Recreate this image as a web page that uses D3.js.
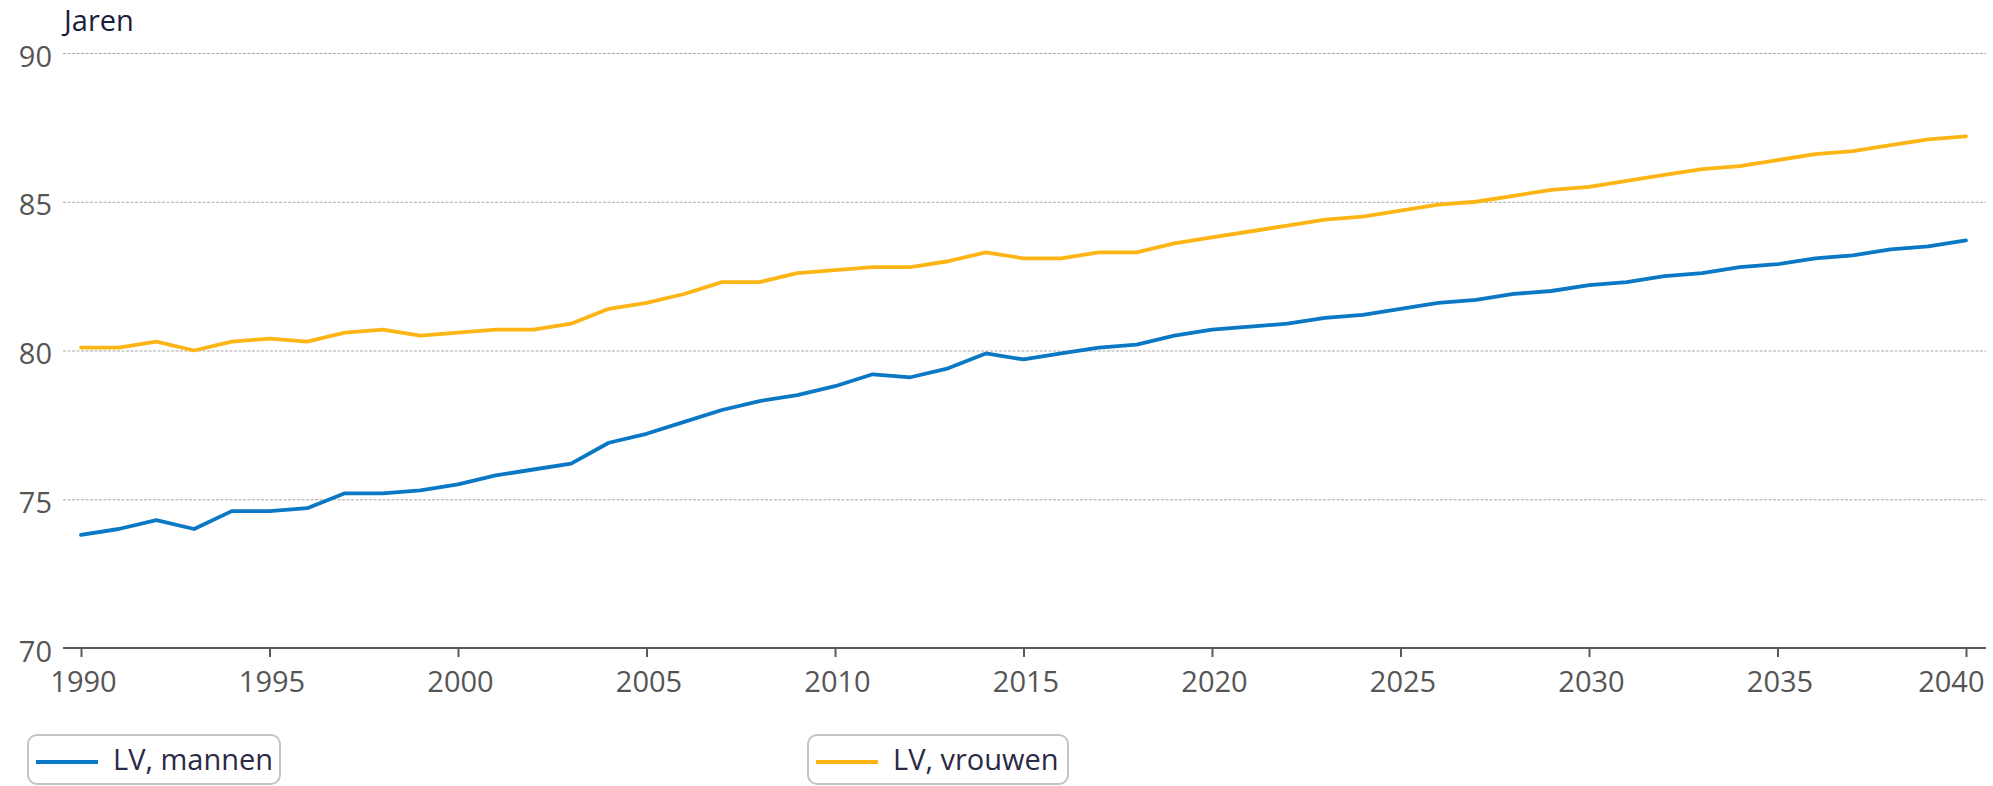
<!DOCTYPE html>
<html>
<head>
<meta charset="utf-8">
<script src="https://cdn.jsdelivr.net/npm/d3@7"></script>
<style>
  html, body { margin: 0; padding: 0; background: #fff; }
  svg { display: block; }
</style>
</head>
<body>
<svg id="chart" width="1993" height="786"></svg>
<script>
const years = d3.range(1990, 2041);
const mannen = [73.8, 74.0, 74.3, 74.0, 74.6, 74.6, 74.7, 75.2, 75.2, 75.3,
  75.5, 75.8, 76.0, 76.2, 76.9, 77.2, 77.6, 78.0, 78.3, 78.5,
  78.8, 79.2, 79.1, 79.4, 79.9, 79.7, 79.9, 80.1, 80.2, 80.5,
  80.7, 80.8, 80.9, 81.1, 81.2, 81.4, 81.6, 81.7, 81.9, 82.0,
  82.2, 82.3, 82.5, 82.6, 82.8, 82.9, 83.1, 83.2, 83.4, 83.5, 83.7];
const vrouwen = [80.1, 80.1, 80.3, 80.0, 80.3, 80.4, 80.3, 80.6, 80.7, 80.5,
  80.6, 80.7, 80.7, 80.9, 81.4, 81.6, 81.9, 82.3, 82.3, 82.6,
  82.7, 82.8, 82.8, 83.0, 83.3, 83.1, 83.1, 83.3, 83.3, 83.6,
  83.8, 84.0, 84.2, 84.4, 84.5, 84.7, 84.9, 85.0, 85.2, 85.4,
  85.5, 85.7, 85.9, 86.1, 86.2, 86.4, 86.6, 86.7, 86.9, 87.1, 87.2];
const xTicks = [1990, 1995, 2000, 2005, 2010, 2015, 2020, 2025, 2030, 2035, 2040];
const yTicks = [70, 75, 80, 85, 90];
const seriesNames = ["LV, mannen", "LV, vrouwen"];
const seriesColors = ["#0a78c4", "#fdb515"];
const yTitle = "Jaren";

const svg = d3.select("#chart");
const font = "'Open Sans', sans-serif";
const x = d3.scaleLinear().domain([1990, 2040]).range([81, 1966]);
const y = d3.scaleLinear().domain([70, 90]).range([648, 53]);
const gridLeft = 63, gridRight = 1986;

// Y axis with gridlines
const yAxis = svg.append("g")
  .attr("transform", `translate(${gridLeft},0)`)
  .call(d3.axisLeft(y).tickValues(yTicks).tickSize(-(gridRight - gridLeft)).tickPadding(11));
yAxis.select(".domain").remove();
yAxis.selectAll(".tick line")
  .attr("stroke", "#a8a8a8")
  .attr("stroke-width", 1)
  .attr("stroke-dasharray", "3,1.5")
  .attr("opacity", d => d === 70 ? 0 : 1);
yAxis.selectAll(".tick text")
  .attr("dy", null)
  .attr("y", 13)
  .attr("fill", "#555")
  .style("font-family", font)
  .style("font-size", "29px");

// X axis
const xAxis = svg.append("g")
  .attr("transform", `translate(0,${y(70)})`)
  .call(d3.axisBottom(x).tickValues(xTicks).tickFormat(d3.format("d")).tickSize(9).tickSizeOuter(0).tickPadding(12));
xAxis.select(".domain")
  .attr("d", `M${gridLeft},0H${gridRight}`)
  .attr("stroke", "#5a5a5a")
  .attr("stroke-width", 2);
xAxis.selectAll(".tick line").attr("stroke", "#5a5a5a").attr("stroke-width", 2);
xAxis.selectAll(".tick text")
  .attr("dy", null)
  .attr("y", 44)
  .attr("x", d => d === 2040 ? 18 : 2)
  .attr("text-anchor", d => d === 2040 ? "end" : "middle")
  .attr("fill", "#555")
  .style("font-family", font)
  .style("font-size", "29px");

// Y title
svg.append("text")
  .attr("x", 64).attr("y", 31)
  .attr("fill", "#1c1c3c")
  .style("font-family", font)
  .style("font-size", "29px")
  .text(yTitle);

// Lines
const line = d3.line().x((d, i) => x(years[i])).y(d => y(d));
[mannen, vrouwen].forEach((vals, k) => {
  svg.append("path")
    .datum(vals)
    .attr("d", line)
    .attr("fill", "none")
    .attr("stroke", seriesColors[k])
    .attr("stroke-width", 3.8)
    .attr("stroke-linejoin", "round")
    .attr("stroke-linecap", "round");
});

// Legend
const legendX = [28, 808];
const legendW = [252, 260];
seriesNames.forEach((name, k) => {
  const g = svg.append("g").attr("transform", `translate(${legendX[k]},735)`);
  g.append("rect")
    .attr("x", 0).attr("y", 0)
    .attr("width", legendW[k]).attr("height", 49)
    .attr("rx", 9).attr("ry", 9)
    .attr("fill", "#fff")
    .attr("stroke", "#c4c4c4")
    .attr("stroke-width", 2);
  g.append("line")
    .attr("x1", 8).attr("x2", 70)
    .attr("y1", 27).attr("y2", 27)
    .attr("stroke", seriesColors[k])
    .attr("stroke-width", 3.8);
  g.append("text")
    .attr("x", 85).attr("y", 35)
    .attr("fill", "#2a2a44")
    .style("font-family", font)
    .style("font-size", "29px")
    .text(name);
});
</script>
</body>
</html>
